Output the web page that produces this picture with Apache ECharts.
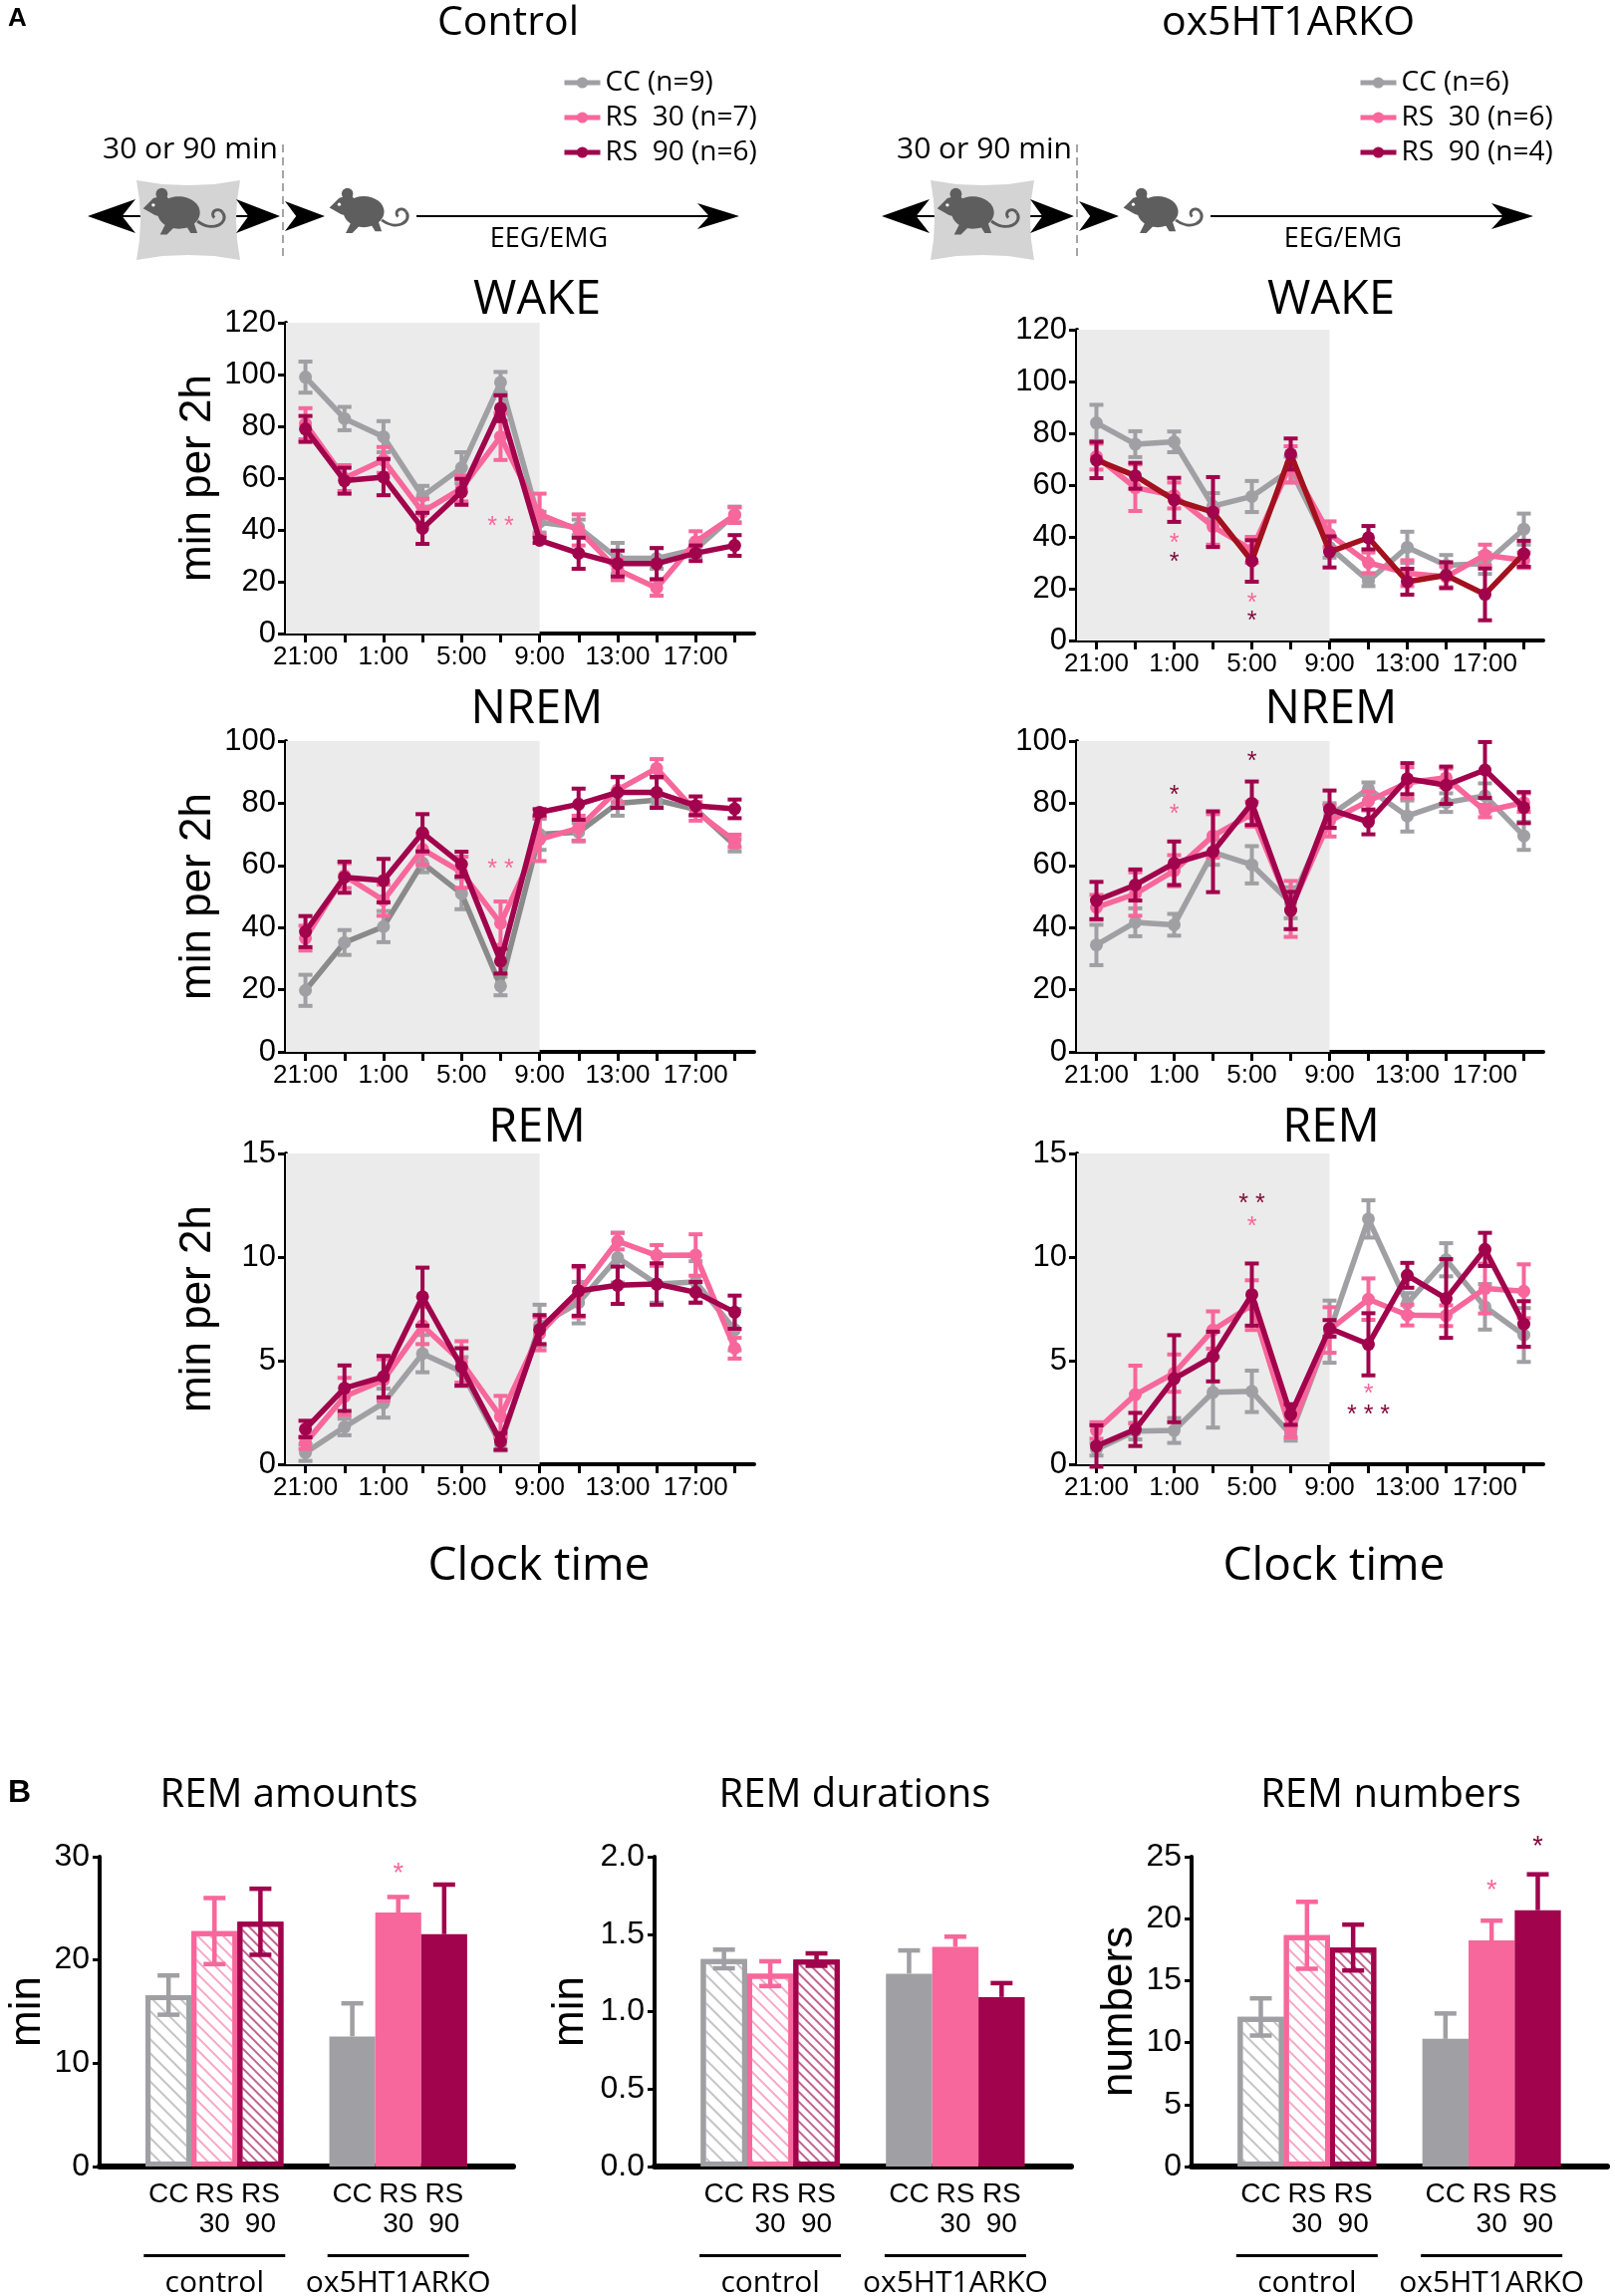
<!DOCTYPE html>
<html><head><meta charset="utf-8">
<script src="https://cdn.jsdelivr.net/npm/echarts@6/dist/echarts.min.js"></script>
<style>html,body{margin:0;padding:0;background:#fff}#c{width:1621px;height:2305px}</style>
</head><body><div id="c"></div><script>
// ---------------- DATA ----------------
const hours = ['21:00','23:00','1:00','3:00','5:00','7:00','9:00','11:00','13:00','15:00','17:00','19:00'];
const darkPhaseEnd = '9:00';
const ctrlNames = ['CC (n=9)','RS  30 (n=7)','RS  90 (n=6)'];
const koNames = ['CC (n=6)','RS  30 (n=6)','RS  90 (n=4)'];

// Control WAKE
const ctrlWakeCC = [99, 83, 76, 53, 64, 97, 43, 41, 29, 29, 32.5, 46];
const ctrlWakeCCErr = [6, 4.5, 6, 4, 6, 4, 4, 3, 6, 4, 3, 3];
const ctrlWakeRS30 = [81, 60, 67, 47, 56, 76, 46, 40, 24.6, 17.6, 35.5, 45.7];
const ctrlWakeRS30Err = [6, 5, 5, 5, 5, 9, 8, 6, 4, 3, 4, 3];
const ctrlWakeRS90 = [79, 59, 60.4, 40.6, 54.7, 87, 36, 31, 27, 27, 31, 34];
const ctrlWakeRS90Err = [5, 5, 7, 6, 5, 5, 1, 6, 5, 6, 3, 4];
const ctrlWakeStars = [['7:00', 44, '* *', 1]];

// ox5HT1ARKO WAKE
const koWakeCC = [84, 75.8, 76.7, 51.9, 55.6, 66, 36, 23, 36, 29, 29.7, 43];
const koWakeCCErr = [7, 5, 4, 5, 6, 5, 4, 2, 6, 4, 4, 6];
const koWakeRS30 = [71, 59, 56, 44, 35, 68, 41, 30, 26, 24.6, 33, 31];
const koWakeRS30Err = [5, 9, 5, 7, 5, 7, 5, 4, 5, 4, 4, 3];
const koWakeRS90 = [69.7, 63.6, 54.3, 49.6, 30.7, 72, 34.2, 39.7, 22.7, 25.2, 17.8, 33.5];
const koWakeRS90Err = [7, 5, 8.5, 13.5, 8, 6, 6, 4.5, 5, 5, 10, 5];
const koWakeStars = [['1:00', 40, '*', 1], ['1:00', 33, '*', 2], ['5:00', 17, '*', 1], ['5:00', 10, '*', 2]];

// Control NREM
const ctrlNremCC = [19.8, 35.2, 40.3, 60.8, 50.9, 21.2, 70, 70.7, 80, 81, 78, 66.5];
const ctrlNremCCErr = [5, 4, 5, 3, 5, 3, 5, 3, 4, 2, 2, 2];
const ctrlNremRS30 = [36.6, 56.7, 48.8, 65.2, 57.8, 41.4, 68.4, 72, 84.3, 91.2, 77.4, 67.9];
const ctrlNremRS30Err = [4, 4, 5, 5, 5, 7, 7, 4, 4, 3, 3, 2];
const ctrlNremRS90 = [38.7, 56.2, 55.1, 70.5, 60.4, 29.2, 77.1, 79.7, 83.5, 83.5, 79.2, 78.2];
const ctrlNremRS90Err = [5, 5, 7, 6, 4, 4, 1, 5, 5, 5, 3, 3];
const ctrlNremStars = [['7:00', 61, '* *', 1]];

// ox5HT1ARKO NREM
const koNremCC = [34.4, 41.7, 40.9, 64.2, 60.2, 48, 76, 84.7, 75.9, 80.2, 82.4, 69.5];
const koNremCCErr = [6.5, 4.5, 3.5, 4, 6, 5, 4, 2, 5, 3, 4, 4.5];
const koNremRS30 = [46.5, 50.8, 58.3, 69.5, 76.5, 46, 74.3, 80.7, 86.6, 88.2, 77.5, 80.2];
const koNremRS30Err = [4, 7, 5, 7, 4, 9, 5, 3, 5, 3, 2, 3];
const koNremRS90 = [48.7, 53.7, 60.7, 64.4, 80, 45.5, 78.1, 74, 87.9, 85.8, 90.7, 78.6];
const koNremRS90Err = [6, 5, 7, 13, 7, 6, 6, 4, 5, 6, 9, 5];
const koNremStars = [['1:00', 84.7, '*', 2], ['1:00', 78.8, '*', 1], ['5:00', 95.7, '*', 2]];

// Control REM
const ctrlRemCC = [0.56, 1.8, 2.95, 5.34, 4.47, 0.96, 6.7, 7.8, 9.97, 8.7, 8.8, 6.5];
const ctrlRemCCErr = [0.4, 0.4, 0.7, 0.9, 0.7, 0.3, 1, 1, 1.2, 0.9, 1, 1];
const ctrlRemRS30 = [1.04, 3.27, 4.07, 6.7, 4.94, 2.3, 6.3, 8.3, 10.77, 10.08, 10.1, 5.6];
const ctrlRemRS30Err = [0.3, 0.9, 1, 0.9, 1, 1, 0.8, 1.2, 0.4, 0.5, 1, 0.5];
const ctrlRemRS90 = [1.7, 3.67, 4.23, 8.09, 4.7, 1.1, 6.5, 8.37, 8.64, 8.7, 8.3, 7.34];
const ctrlRemRS90Err = [0.4, 1.1, 1, 1.4, 0.9, 0.4, 0.7, 1.2, 0.9, 1, 0.5, 0.8];
const ctrlRemStars = [];

// ox5HT1ARKO REM
const koRemCC = [0.72, 1.6, 1.63, 3.47, 3.52, 1.44, 6.4, 11.84, 7.76, 9.87, 7.6, 6.24];
const koRemCCErr = [0.3, 0.4, 0.6, 1.7, 1, 0.3, 1.5, 0.9, 0.5, 0.8, 1.1, 1.3];
const koRemRS30 = [1.63, 3.36, 4.4, 6.48, 7.68, 1.6, 6.48, 7.97, 7.2, 7.17, 8.48, 8.35];
const koRemRS30Err = [0.4, 1.4, 0.9, 0.9, 1.2, 0.3, 1.1, 1, 0.5, 0.5, 1.2, 1.3];
const koRemRS90 = [0.88, 1.68, 4.13, 5.2, 8.19, 2.4, 6.56, 5.79, 9.12, 8, 10.37, 6.77];
const koRemRS90Err = [1, 0.8, 2.1, 1.2, 1.5, 0.5, 0.4, 1.5, 0.6, 1.9, 0.8, 1.1];
const koRemStars = [['5:00', 12.9, '* *', 2], ['5:00', 11.8, '*', 1], ['11:00', 3.7, '*', 1], ['11:00', 2.7, '* * *', 2]];

// Panel B bars
const barLabels = ['CC', 'RS\n30', 'RS\n90'];
const groupNames = ['control', 'ox5HT1ARKO'];
const amountsCtrl = [16.6, 22.8, 23.7];
const amountsCtrlErr = [1.9, 3.2, 3.2];
const amountsKO = [12.6, 24.6, 22.5];
const amountsKOErr = [3.2, 1.5, 4.8];
const amountsStars = [[1, 1, 29.1]];
const durCtrl = [1.34, 1.245, 1.336];
const durCtrlErr = [0.06, 0.08, 0.04];
const durKO = [1.245, 1.418, 1.094];
const durKOErr = [0.15, 0.066, 0.09];
const durStars = [];
const numCtrl = [12.07, 18.66, 17.67];
const numCtrlErr = [1.5, 2.7, 1.85];
const numKO = [10.3, 18.24, 20.68];
const numKOErr = [2.05, 1.6, 2.9];
const numStars = [[1, 1, 22.9], [1, 2, 26.4]];

// ---------------- STYLE / LAYOUT ----------------
const colors = ['#a0a0a4', '#f7679b', '#a1034c'];
const starColors = ['#888', '#f7679b', '#7e0838'];
const hatchColors = ['#c4c4c4', '#f7a8c6', '#c06591'];
const hatchDash = [[1.5, 8], [1.5, 7], [1.6, 5]];
const AX = 'Liberation Sans';
const TF = 'Open Sans';

const linePanels = [
  {title:'WAKE', col:0, row:0, max:120, step:20, names:ctrlNames, stars:ctrlWakeStars,
   data:[[ctrlWakeCC,ctrlWakeCCErr],[ctrlWakeRS30,ctrlWakeRS30Err],[ctrlWakeRS90,ctrlWakeRS90Err]]},
  {title:'WAKE', col:1, row:0, max:120, step:20, names:koNames, stars:koWakeStars, lineColors:[null,null,'#a3101e'],
   data:[[koWakeCC,koWakeCCErr],[koWakeRS30,koWakeRS30Err],[koWakeRS90,koWakeRS90Err]]},
  {title:'NREM', col:0, row:1, max:100, step:20, names:ctrlNames, stars:ctrlNremStars, lineColors:['#8a8a8a',null,null],
   data:[[ctrlNremCC,ctrlNremCCErr],[ctrlNremRS30,ctrlNremRS30Err],[ctrlNremRS90,ctrlNremRS90Err]]},
  {title:'NREM', col:1, row:1, max:100, step:20, names:koNames, stars:koNremStars,
   data:[[koNremCC,koNremCCErr],[koNremRS30,koNremRS30Err],[koNremRS90,koNremRS90Err]]},
  {title:'REM', col:0, row:2, max:15, step:5, names:ctrlNames, stars:ctrlRemStars,
   data:[[ctrlRemCC,ctrlRemCCErr],[ctrlRemRS30,ctrlRemRS30Err],[ctrlRemRS90,ctrlRemRS90Err]]},
  {title:'REM', col:1, row:2, max:15, step:5, names:koNames, stars:koRemStars,
   data:[[koRemCC,koRemCCErr],[koRemRS30,koRemRS30Err],[koRemRS90,koRemRS90Err]]}
];
const gridLeft = [287, 1081], gridWidth = [470, 468];
const gridTop = [[324, 331], [744, 744], [1158, 1158]];
const gridHeight = 312;
const titleY = [302, 713, 1133];
const titleDX = [252, 255];
const clockX = [541, 1339], clockY = 1573;

const barPanels = [
  {title:'REM amounts', yName:'min', max:30, step:10, dec:0, ctrl:[amountsCtrl, amountsCtrlErr], ko:[amountsKO, amountsKOErr], stars:amountsStars, left:100, width:415, nameGap:50, titleX:290},
  {title:'REM durations', yName:'min', max:2, step:0.5, dec:1, ctrl:[durCtrl, durCtrlErr], ko:[durKO, durKOErr], stars:durStars, left:657, width:418, nameGap:62, titleX:858},
  {title:'REM numbers', yName:'numbers', max:25, step:5, dec:0, ctrl:[numCtrl, numCtrlErr], ko:[numKO, numKOErr], stars:numStars, left:1196, width:417, nameGap:50, titleX:1396}
];
const barTop = 1864, barHeight = 311;

// slots: empty | 3 bars | empty | 3 bars | empty
const slotLabels = ['', ...barLabels, '', ...barLabels, ''];
const slotOf = (g, b) => 1 + g * (barLabels.length + 1) + b;

// ---------------- RENDER HELPERS ----------------
function shadeRender(params, api) {
  const endIdx = api.value(0), top = api.value(1);
  const a = api.coord([0, top]);
  const b = api.coord([endIdx, 0]);
  const half = api.size([1, 0])[0] / 2;
  const x0 = a[0] - half;
  return {type:'rect', shape:{x:x0, y:a[1], width:b[0]-x0, height:b[1]-a[1]}, style:{fill:'#ebebeb'}};
}
function makeErrRender(cap, lw, colorFn) {
  return function (params, api) {
    const x = api.value(0), m = api.value(1), e = api.value(2), two = api.value(3);
    const c = colorFn ? colorFn(api) : api.visual('color');
    const top = api.coord([x, m + e]);
    const bot = api.coord([x, two ? m - e : m]);
    const st = {stroke:c, lineWidth:lw};
    const ch = [
      {type:'line', shape:{x1:top[0], y1:top[1], x2:bot[0], y2:bot[1]}, style:st},
      {type:'line', shape:{x1:top[0]-cap, y1:top[1], x2:top[0]+cap, y2:top[1]}, style:st}
    ];
    if (two) ch.push({type:'line', shape:{x1:bot[0]-cap, y1:bot[1], x2:bot[0]+cap, y2:bot[1]}, style:st});
    return {type:'group', children:ch};
  };
}
function makeStarRender(texts, cols, fs) {
  return function (params, api) {
    const p = api.coord([api.value(0), api.value(1)]);
    return {type:'text', x:p[0], y:p[1] + fs * 0.3,
      style:{text:texts[params.dataIndex], fill:cols[params.dataIndex], font:fs + 'px "' + AX + '"', textAlign:'center', textVerticalAlign:'middle'}};
  };
}

// ---------------- OPTION ----------------
const legendBase = {orient:'vertical', top:69, padding:0, itemWidth:36, itemHeight:14, itemGap:7,
  textStyle:{fontSize:28, fontFamily:TF, color:'#000'}};
const option = {
  animation:false, backgroundColor:'#fff',
  textStyle:{fontFamily:AX},
  grid:[], xAxis:[], yAxis:[], series:[],
  legend:[
    Object.assign({left:564, data:ctrlNames.map((n, g) => ({name:n, itemStyle:{color:colors[g]}, lineStyle:{color:colors[g], width:5}}))}, legendBase),
    Object.assign({left:1363, data:koNames.map((n, g) => ({name:n, itemStyle:{color:colors[g]}, lineStyle:{color:colors[g], width:5}}))}, legendBase)
  ],
  graphic:{elements:[]}
};

linePanels.forEach(p => {
  const gi = option.grid.length;
  option.grid.push({left:gridLeft[p.col], top:gridTop[p.row][p.col], width:gridWidth[p.col], height:gridHeight, outerBoundsMode:'none'});
  option.xAxis.push({gridIndex:gi, type:'category', data:hours, boundaryGap:true,
    axisLine:{onZero:false, lineStyle:{color:'#000', width:4}},
    axisTick:{show:true, alignWithLabel:true, interval:0, length:9, lineStyle:{color:'#000', width:3}},
    axisLabel:{interval:1, color:'#000', fontSize:26, margin:11, fontFamily:AX},
    splitLine:{show:false}});
  option.yAxis.push({gridIndex:gi, type:'value', min:0, max:p.max, interval:p.step,
    axisLine:{show:true, lineStyle:{color:'#000', width:4}},
    axisTick:{show:true, length:8, lineStyle:{color:'#000', width:3}},
    axisLabel:{color:'#000', fontSize:31, margin:10, fontFamily:AX},
    splitLine:{show:false},
    name:p.col === 0 ? 'min per 2h' : '', nameLocation:'middle', nameGap:66,
    nameTextStyle:{fontSize:44, fontFamily:AX, color:'#000'}});
  option.series.push({type:'custom', xAxisIndex:gi, yAxisIndex:gi, silent:true, z:1,
    data:[[hours.indexOf(darkPhaseEnd), p.max]], renderItem:shadeRender});
  p.data.forEach(([vals, errs], g) => {
    const lc = (p.lineColors && p.lineColors[g]) || colors[g];
    option.series.push({type:'line', name:p.names[g], xAxisIndex:gi, yAxisIndex:gi, data:vals,
      symbol:'circle', symbolSize:13, z:3 + g, itemStyle:{color:colors[g]},
      lineStyle:{color:lc, width:5.5}, emphasis:{disabled:true}});
    option.series.push({type:'custom', name:p.names[g], xAxisIndex:gi, yAxisIndex:gi, z:3 + g, silent:true,
      itemStyle:{color:colors[g]}, data:vals.map((v, k) => [k, v, errs[k], 1]),
      renderItem:makeErrRender(7, 4)});
  });
  if (p.stars.length) {
    option.series.push({type:'custom', xAxisIndex:gi, yAxisIndex:gi, z:10, silent:true,
      data:p.stars.map(s => [hours.indexOf(s[0]), s[1]]),
      renderItem:makeStarRender(p.stars.map(s => s[2]), p.stars.map(s => starColors[s[3]]), 25)});
  }
  option.graphic.elements.push({type:'text', x:gridLeft[p.col] + titleDX[p.col], y:titleY[p.row], silent:true,
    style:{text:p.title, font:'47px "' + TF + '"', fill:'#000', textAlign:'center', textVerticalAlign:'middle'}});
});

barPanels.forEach(p => {
  const gi = option.grid.length;
  option.grid.push({left:p.left, top:barTop, width:p.width, height:barHeight, outerBoundsMode:'none'});
  const xi = option.xAxis.length;
  const midSlots = [slotOf(0, 1), slotOf(1, 1)];
  option.xAxis.push({gridIndex:gi, type:'category', data:slotLabels, boundaryGap:true,
    axisLine:{onZero:false, lineStyle:{color:'#000', width:6}},
    axisTick:{show:false},
    axisLabel:{interval:0, color:'#000', margin:13,
      formatter:(v, idx) => {
        const lines = v.split('\n').map(t => '{a|' + t + '}').join('\n');
        const gIdx = midSlots.indexOf(idx);
        if (gIdx < 0) return lines;
        return lines + '\n{sp| }\n{l| }\n{t|' + groupNames[gIdx] + '}';
      },
      rich:{
        a:{fontSize:28, lineHeight:30, fontFamily:AX, color:'#000'},
        sp:{fontSize:1, height:15, lineHeight:15},
        l:{fontSize:1, width:142, height:3, lineHeight:3, backgroundColor:'#000'},
        t:{fontSize:30, lineHeight:52, fontFamily:TF, color:'#000'}
      }},
    splitLine:{show:false}});
  option.yAxis.push({gridIndex:gi, type:'value', min:0, max:p.max, interval:p.step,
    axisLine:{show:true, lineStyle:{color:'#000', width:4}},
    axisTick:{show:true, length:7, lineStyle:{color:'#000', width:3}},
    axisLabel:{color:'#000', fontSize:32, margin:10, fontFamily:AX, formatter:v => v.toFixed(p.dec)},
    splitLine:{show:false},
    name:p.yName, nameLocation:'middle', nameGap:p.nameGap,
    nameTextStyle:{fontSize:44, fontFamily:AX, color:'#000'}});
  const barData = slotLabels.map(() => '-');
  const errData = [];
  [p.ctrl, p.ko].forEach(([vals, errs], g) => {
    vals.forEach((v, b) => {
      const k = slotOf(g, b);
      barData[k] = {value:v, itemStyle: g === 0
        ? {color:'#fff', borderColor:colors[b], borderWidth:5,
           decal:{symbol:'rect', symbolSize:1, dashArrayX:[1, 0], dashArrayY:hatchDash[b], rotation:Math.PI / 4, color:hatchColors[b]}}
        : {color:colors[b]}};
      errData.push([k, v, errs[b], g === 0 ? 1 : 0, b]);
    });
  });
  option.series.push({type:'bar', xAxisIndex:xi, yAxisIndex:gi, data:barData, barWidth:'100%', barCategoryGap:'0%', z:2, silent:true});
  option.series.push({type:'custom', xAxisIndex:xi, yAxisIndex:gi, z:3, silent:true, data:errData,
    renderItem:makeErrRender(11, 4.5, api => colors[api.value(4)])});
  if (p.stars.length) {
    option.series.push({type:'custom', xAxisIndex:xi, yAxisIndex:gi, z:10, silent:true,
      data:p.stars.map(s => [slotOf(s[0], s[1]), s[2]]),
      renderItem:makeStarRender(p.stars.map(() => '*'), p.stars.map(s => starColors[s[1]]), 27)});
  }
  option.graphic.elements.push({type:'text', x:p.titleX, y:1803, silent:true,
    style:{text:p.title, font:'40px "' + TF + '"', fill:'#000', textAlign:'center', textVerticalAlign:'middle'}});
});

// ---------------- STATIC TEXT & SCHEMATIC ----------------
const G = option.graphic.elements;
function txt(t, x, y, font, align) {
  G.push({type:'text', x, y, silent:true, style:{text:t, font, fill:'#000', textAlign:align || 'center', textVerticalAlign:'middle'}});
}
txt('A', 8, 19, 'bold 26px "' + AX + '"', 'left');
txt('B', 8, 1800, 'bold 32px "' + AX + '"', 'left');
txt('Control', 510, 23, '41px "' + TF + '"');
txt('ox5HT1ARKO', 1293, 23, '41px "' + TF + '"');
clockX.forEach(x => txt('Clock time', x, clockY, '46px "' + TF + '"'));

const MOUSE = '#5e5e5e';
function mouse(x, y, s) {
  return {type:'group', x, y, scaleX:s, scaleY:s, silent:true, children:[
    {type:'ellipse', shape:{cx:44, cy:30, rx:25, ry:19}, style:{fill:MOUSE}},
    {type:'polygon', shape:{points:[[2,25],[14,13],[28,9],[38,20],[34,38],[16,33]]}, style:{fill:MOUSE}},
    {type:'circle', shape:{cx:24, cy:8, r:7}, style:{fill:MOUSE}},
    {type:'circle', shape:{cx:14, cy:21, r:2}, style:{fill:'#fff'}},
    {type:'polygon', shape:{points:[[28,44],[22,56],[30,56],[40,46]]}, style:{fill:MOUSE}},
    {type:'polygon', shape:{points:[[52,44],[58,54],[66,54],[62,42]]}, style:{fill:MOUSE}},
    {type:'bezierCurve', shape:{x1:66, y1:40, cpx1:84, cpy1:54, cpx2:104, cpy2:42, x2:96, y2:30}, style:{stroke:MOUSE, lineWidth:3.5, fill:null}},
    {type:'bezierCurve', shape:{x1:96, y1:30, cpx1:90, cpy1:22, cpx2:80, cpy2:30, x2:86, y2:36}, style:{stroke:MOUSE, lineWidth:3.5, fill:null}}
  ]};
}
function arrowHead(tipX, y, dir, len, half) {
  const b = tipX - dir * len, n = tipX - dir * len * 0.72;
  return {type:'polygon', silent:true, shape:{points:[[tipX, y], [b, y - half], [n, y], [b, y + half]]}, style:{fill:'#000'}};
}
const boxPts = [[137,181],[163,185],[189,186],[215,185],[241,181],[238,201],[237,221],[238,241],[241,261],
                [215,257],[189,256],[163,257],[137,261],[140,241],[141,221],[140,201]];
[0, 797].forEach(dx => {
  txt('30 or 90 min', 191 + dx, 150, '30px "' + TF + '"');
  txt('EEG/EMG', 551 + dx, 240, '27px "' + TF + '"');
  G.push({type:'line', silent:true, shape:{x1:110 + dx, y1:217, x2:262 + dx, y2:217}, style:{stroke:'#000', lineWidth:2}});
  G.push({type:'polygon', silent:true, shape:{points:boxPts.map(q => [q[0] + dx, q[1]])}, style:{fill:'#d4d4d4'}});
  G.push(mouse(142 + dx, 188, 0.85));
  G.push(arrowHead(88 + dx, 217, -1, 48, 17));
  G.push(arrowHead(281 + dx, 217, 1, 44, 17));
  G.push({type:'line', silent:true, shape:{x1:284 + dx, y1:145, x2:284 + dx, y2:262}, style:{stroke:'#888', lineWidth:1.5, lineDash:[8, 5]}});
  G.push(arrowHead(326 + dx, 217, 1, 40, 15));
  G.push(mouse(329 + dx, 188, 0.82));
  G.push({type:'line', silent:true, shape:{x1:418 + dx, y1:217, x2:712 + dx, y2:217}, style:{stroke:'#000', lineWidth:2}});
  G.push(arrowHead(742 + dx, 217, 1, 42, 13));
});

const chart = echarts.init(document.getElementById('c'), null, {renderer:'canvas', width:1621, height:2305});
chart.setOption(option);
</script></body></html>
